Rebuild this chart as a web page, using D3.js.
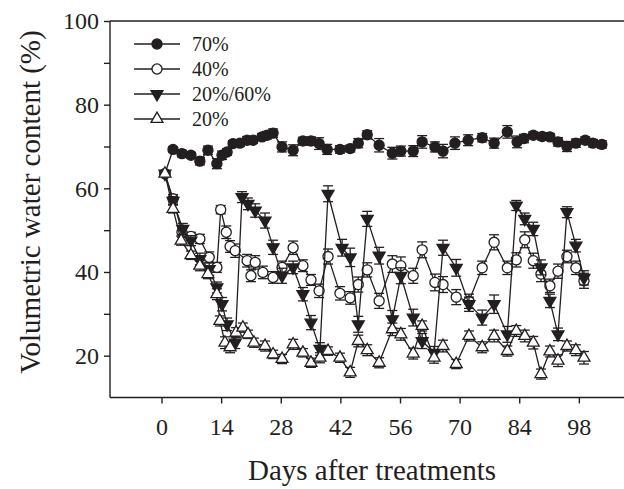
<!DOCTYPE html>
<html lang="en">
<head>
<meta charset="utf-8">
<title>Volumetric water content</title>
<script src="https://d3js.org/d3.v7.min.js"></script>
<style>
  body { margin: 0; background: #fff; }
  svg text { font-family: "Liberation Serif", "Times New Roman", serif; fill: #231f20; }
  .tick text { font-size: 24px; }
  .title { font-size: 29px; }
  .legend text { font-size: 20px; }
</style>
</head>
<body>
<svg id="chart" width="624" height="489"></svg>
<script>
// tick labels
var xTicks = [0, 14, 28, 42, 56, 70, 84, 98];
var yTicks = [20, 40, 60, 80, 100];
var yMinor = [30, 50, 70, 90];

var seriesNames = ["70%", "40%", "20%/60%", "20%"];

// 70% series
var days70 = [0.8,2.7,4.8,6.9,9.0,10.9,13.0,14.2,15.4,16.8,18.4,20.1,21.5,23.6,24.8,26.2,28.3,30.9,33.2,35.1,37.0,38.9,41.9,44.3,46.2,48.3,51.1,54.2,56.2,59.1,61.2,64.2,66.1,68.9,72.0,75.3,78.1,81.2,83.5,85.1,87.3,89.4,91.2,93.1,95.2,97.3,99.5,101.3,103.4];
var vals70 = [63.5,69.3,68.3,67.9,66.5,69.1,65.9,67.9,68.7,70.7,70.8,71.5,71.5,72.3,72.7,73.2,69.9,69.1,71.3,71.3,70.7,69.3,69.3,69.5,70.8,72.8,70.3,68.4,68.9,68.9,71.1,69.9,68.9,70.8,71.5,72.1,70.8,73.5,71.1,71.9,72.7,72.4,72.3,71.1,70.0,70.8,71.5,70.8,70.5];
var err70 = [0.5,0.6,0.8,0.7,0.9,1.0,1.2,1.0,0.8,0.7,0.8,0.9,0.7,0.8,0.9,1.0,1.2,1.3,0.9,1.0,1.4,1.2,0.9,0.8,1.1,1.0,1.6,1.4,1.2,1.3,1.5,1.2,1.6,1.5,1.3,1.0,1.2,1.5,1.4,1.0,0.8,0.9,0.8,1.0,1.2,1.0,0.8,0.9,0.9];

// 40% series
var days40 = [0.8,2.7,4.8,6.9,9.0,11.2,13.0,13.9,15.2,16.1,17.3,20.1,21.0,22.0,23.8,26.2,28.3,30.9,33.2,35.1,37.0,39.1,41.9,44.3,46.2,48.3,51.1,54.2,56.2,59.1,61.2,64.2,66.1,69.2,72.2,75.3,78.1,81.2,83.3,85.3,87.3,89.1,91.2,93.1,95.2,97.3,99.2];
var vals40 = [63.5,57.5,49.5,48.5,47.9,43.5,41.1,54.9,49.5,46.1,45.1,42.7,39.1,42.3,39.9,38.7,41.1,45.8,41.5,38.1,35.5,43.7,34.9,33.8,37.0,40.5,33.1,41.9,41.5,39.1,45.3,37.5,37.0,34.0,33.0,41.0,47.1,41.0,42.9,47.7,42.7,39.5,36.7,40.2,43.7,41.0,37.9];
var err40 = [0.5,1.0,1.2,1.0,1.1,1.3,1.2,1.0,1.5,1.4,1.6,1.5,1.4,1.6,1.5,1.4,1.5,1.6,1.4,1.3,1.6,1.8,1.6,1.5,1.8,1.7,1.8,2.0,2.1,1.8,1.9,2.0,1.9,1.8,1.7,1.6,1.8,1.6,1.7,1.9,1.8,1.8,1.6,1.7,1.5,1.6,1.8];

// 20%/60% series
var days2060 = [0.8,2.7,5.0,6.9,9.0,11.2,13.0,14.2,15.4,17.3,18.9,20.3,22.0,24.3,26.2,28.3,30.9,33.2,35.1,37.2,39.1,42.4,44.3,46.2,48.3,51.1,54.2,56.2,59.1,61.2,64.0,66.1,69.2,72.2,75.3,78.1,81.2,83.3,85.3,87.3,89.1,91.2,93.1,95.2,97.3,99.2];
var vals2060 = [63.5,57.0,50.3,47.5,43.1,40.7,36.3,32.3,27.5,23.1,57.9,56.3,54.7,52.3,45.9,39.1,41.1,34.7,27.9,21.6,58.7,45.8,43.5,27.5,52.7,43.9,28.7,39.1,29.1,23.5,20.7,45.8,41.0,32.3,29.1,32.3,25.1,55.9,52.7,50.3,41.1,33.1,25.1,54.3,46.3,38.6];
var err2060 = [0.5,1.0,1.3,1.2,1.4,1.5,1.3,1.6,1.5,1.4,1.3,1.4,1.6,1.8,1.7,1.8,1.5,1.6,1.7,1.5,1.9,2.0,2.2,1.9,1.8,2.0,2.1,1.9,2.0,1.8,1.5,1.8,2.0,1.7,1.8,2.2,1.9,1.2,1.4,1.6,1.8,1.6,1.5,1.3,1.5,1.7];

// 20% series
var days20 = [0.8,2.7,4.6,6.9,9.0,10.9,13.0,13.7,14.9,16.1,17.5,19.1,20.3,21.7,24.3,26.2,28.3,30.9,33.2,35.1,37.2,39.1,41.9,44.3,46.2,48.3,51.1,54.2,56.2,59.1,61.2,64.0,66.1,69.2,72.2,75.3,78.1,81.2,83.3,85.3,87.3,89.1,91.2,93.1,95.2,97.3,99.2];
var vals20 = [63.5,55.1,47.5,44.0,41.5,39.5,34.7,28.3,23.1,22.0,25.5,26.7,25.1,23.1,22.3,20.3,19.2,22.7,20.7,18.3,19.5,21.1,19.5,16.0,23.5,21.3,18.3,26.3,25.1,20.5,27.1,19.5,22.3,18.0,24.7,22.0,24.7,21.1,25.9,24.7,23.1,15.6,21.0,18.8,22.3,21.3,19.5];
var err20 = [0.5,1.0,1.1,1.0,1.2,1.1,1.3,1.2,1.4,1.3,1.2,1.1,1.0,1.1,1.2,1.0,1.1,1.2,1.0,1.1,1.2,1.0,1.1,1.2,1.4,1.3,1.2,1.5,1.4,1.3,1.2,1.3,1.4,1.1,1.2,1.3,1.4,1.2,1.3,1.4,1.5,1.2,1.3,1.4,1.2,1.3,1.5];

var ink = "#231f20";

var svg = d3.select("#chart");

var x = d3.scaleLinear().domain([-12.1, 108.6]).range([110, 624]);
var y = d3.scaleLinear().domain([10, 100]).range([397.5, 21]);

// marker shapes
var circleSym = d3.symbol().type(d3.symbolCircle).size(80);
var triSym = d3.symbol().type(d3.symbolTriangle).size(62);

var series = [
  { name: seriesNames[0], days: days70, vals: vals70, err: err70, shape: circleSym, fill: ink, rot: 0 },
  { name: seriesNames[1], days: days40, vals: vals40, err: err40, shape: circleSym, fill: "#fff", rot: 0 },
  { name: seriesNames[2], days: days2060, vals: vals2060, err: err2060, shape: triSym, fill: ink, rot: 180 },
  { name: seriesNames[3], days: days20, vals: vals20, err: err20, shape: triSym, fill: "#fff", rot: 0 }
];

// axes
var yAxis = svg.append("g")
  .attr("transform", "translate(110,0)")
  .call(d3.axisLeft(y).tickValues(yTicks.concat(yMinor)).tickSize(6).tickPadding(5)
    .tickFormat(function(d) { return yTicks.indexOf(d) >= 0 ? d : ""; }));
yAxis.attr("font-family", null).attr("font-size", null);
yAxis.selectAll("line, path").attr("stroke", ink).attr("stroke-width", 1.4);
yAxis.select(".domain").attr("d", "M0," + y(10) + "V" + y(100));

var xAxis = svg.append("g")
  .attr("transform", "translate(0," + y(10) + ")")
  .call(d3.axisBottom(x).tickValues(xTicks).tickSize(6).tickPadding(14));
xAxis.attr("font-family", null).attr("font-size", null);
xAxis.selectAll("line, path").attr("stroke", ink).attr("stroke-width", 1.4);
xAxis.select(".domain").attr("d", "M" + x(-12.1) + ",0H" + x(108.6));

// top frame line
svg.append("line")
  .attr("x1", 110).attr("x2", 624)
  .attr("y1", y(100)).attr("y2", y(100))
  .attr("stroke", ink).attr("stroke-width", 1.4);

// series
series.forEach(function(s) {
  var pts = s.days.map(function(d, i) { return { d: d, v: s.vals[i], e: s.err[i] }; });
  var g = svg.append("g");

  g.append("path")
    .datum(pts)
    .attr("fill", "none")
    .attr("stroke", ink)
    .attr("stroke-width", 1.3)
    .attr("d", d3.line().x(function(p) { return x(p.d); }).y(function(p) { return y(p.v); }));

  var eb = g.selectAll(".eb").data(pts).enter().append("g")
    .attr("stroke", ink).attr("stroke-width", 1.3);
  eb.append("line")
    .attr("x1", function(p) { return x(p.d); }).attr("x2", function(p) { return x(p.d); })
    .attr("y1", function(p) { return y(p.v - p.e); }).attr("y2", function(p) { return y(p.v + p.e); });
  eb.append("line")
    .attr("x1", function(p) { return x(p.d) - 5; }).attr("x2", function(p) { return x(p.d) + 5; })
    .attr("y1", function(p) { return y(p.v + p.e); }).attr("y2", function(p) { return y(p.v + p.e); });
  eb.append("line")
    .attr("x1", function(p) { return x(p.d) - 5; }).attr("x2", function(p) { return x(p.d) + 5; })
    .attr("y1", function(p) { return y(p.v - p.e); }).attr("y2", function(p) { return y(p.v - p.e); });

  g.selectAll(".mk").data(pts).enter().append("path")
    .attr("d", s.shape)
    .attr("transform", function(p) { return "translate(" + x(p.d) + "," + y(p.v) + ") rotate(" + s.rot + ")"; })
    .attr("fill", s.fill)
    .attr("stroke", ink)
    .attr("stroke-width", 1.3);
});

// legend
var legend = svg.append("g").attr("class", "legend");
series.forEach(function(s, i) {
  var ly = 44 + i * 25;
  legend.append("line")
    .attr("x1", 134).attr("x2", 180).attr("y1", ly).attr("y2", ly)
    .attr("stroke", ink).attr("stroke-width", 1.3);
  legend.append("path")
    .attr("d", s.shape)
    .attr("transform", "translate(157," + ly + ") rotate(" + s.rot + ")")
    .attr("fill", s.fill).attr("stroke", ink).attr("stroke-width", 1.3);
  legend.append("text")
    .attr("x", 192).attr("y", ly).attr("dy", "0.35em")
    .text(s.name);
});

// axis titles
svg.append("text")
  .attr("class", "title")
  .attr("x", 372).attr("y", 480)
  .attr("text-anchor", "middle")
  .text("Days after treatments");

svg.append("text")
  .attr("class", "title")
  .attr("transform", "translate(40,202) rotate(-90)")
  .attr("text-anchor", "middle")
  .text("Volumetric water content (%)");
</script>
</body>
</html>
